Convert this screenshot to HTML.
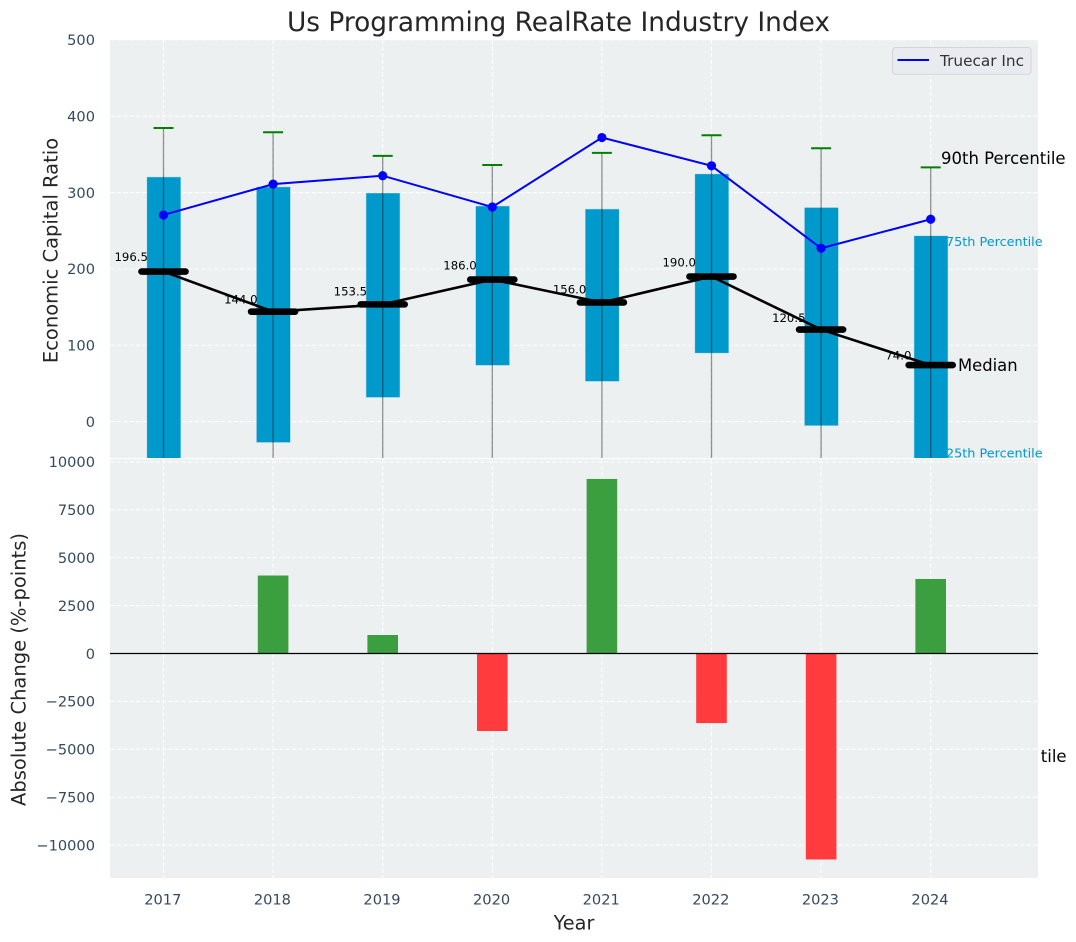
<!DOCTYPE html>
<html lang="en">
<head>
<meta charset="utf-8">
<title>Us Programming RealRate Industry Index</title>
<style>
html,body{margin:0;padding:0;background:#fff;width:1076px;height:942px;overflow:hidden}
svg{display:block}
text{font-family:"DejaVu Sans","Liberation Sans",sans-serif}
</style>
</head>
<body>
<svg id="chart" xmlns="http://www.w3.org/2000/svg" width="1076" height="942" viewBox="0 0 1076 942">
<defs>
<clipPath id="clip-top"><rect x="110" y="40" width="928" height="418"></rect></clipPath>
<clipPath id="clip-bottom"><rect x="110" y="459" width="928" height="419"></rect></clipPath>
</defs>
</svg>
<script>
const years = [2017, 2018, 2019, 2020, 2021, 2022, 2023, 2024];
const p90 = [384.5, 379, 348, 336, 352, 375, 358, 333];
const q3 = [320, 307, 299, 282, 278, 324, 280, 243];
const medians = [196.5, 144, 153.5, 186, 156, 190, 120.5, 74];
const q1 = [-60, -27, 32, 74, 53, 90, -5, -60];
const p10 = [-300, -250, -200, -180, -220, -150, -240, -438];
const truecar = [270.6, 311, 322, 281, 372, 335, 227, 265];
const changes = [0, 4070, 965, -4045, 9110, -3630, -10750, 3890];
const topTicks = [0, 100, 200, 300, 400, 500];
const bottomTicks = [-10000, -7500, -5000, -2500, 0, 2500, 5000, 7500, 10000];

const svg = document.getElementById('chart');
const NS = 'http://www.w3.org/2000/svg';
const xPos = function (yr) { return 163.5 + (yr - 2017) * 109.6; };
const yTop = function (v) { return 421.6 - v * 0.7636; };
const yBot = function (v) { return 653.5 - v * 0.01916; };
const tickColor = '#34495e';
const labelColor = '#262626';

function mk(tag, props, parent) {
  const el = document.createElementNS(NS, tag);
  for (const k in props) el.setAttribute(k, props[k]);
  parent.appendChild(el);
  return el;
}
function fmt(v) { return String(v).replace('-', '\u2212'); }

/* ---------- top panel ---------- */
const topBg = mk('rect', {x:110, y:40, width:928, height:418, fill:'#ecf0f1'}, svg);



const topPlot = mk('g', {'clip-path':'url(#clip-top)'}, svg);



topTicks.forEach(function (t) {
  const g = mk('line', {x1:110, x2:1038, y1:yTop(t), y2:yTop(t), stroke:'#fff', 'stroke-width':1.1, 'stroke-dasharray':'4.5 2', 'stroke-opacity':0.85}, topPlot);
  
  
  const lab = mk('text', {x:95, y:yTop(t) + 5.3, 'text-anchor':'end', 'font-size':14.6, fill:tickColor}, svg);
  lab.textContent = fmt(t);
  
  
});
years.forEach(function (yr) {
  const g = mk('line', {x1:xPos(yr), x2:xPos(yr), y1:40, y2:458, stroke:'#fff', 'stroke-width':1.1, 'stroke-dasharray':'4.5 2', 'stroke-opacity':0.85}, topPlot);
  
  
});

years.forEach(function (yr, i) {
  const yA = yTop(q3[i]);
  const yB = yTop(q1[i]);
  const box = mk('rect', {x:xPos(yr) - 16.4, y:yA, width:33.4, height:yB - yA, fill:'#0099cc', stroke:'#0099cc', 'stroke-opacity':0.25, 'stroke-width':1}, topPlot);
  
  
});
years.forEach(function (yr, i) {
  const w = mk('line', {x1:xPos(yr), x2:xPos(yr), y1:yTop(p90[i]), y2:yTop(p10[i]), stroke:'#000', 'stroke-opacity':0.42, 'stroke-width':1.3}, topPlot);
  
  
  const c = mk('line', {x1:xPos(yr) - 10, x2:xPos(yr) + 10, y1:yTop(p90[i]), y2:yTop(p90[i]), stroke:'#008000', 'stroke-width':2}, topPlot);
  
  
});

const truecarLine = mk('polyline', {points:years.map(function (yr, i) { return xPos(yr) + ',' + yTop(truecar[i]); }).join(' '), fill:'none', stroke:'#0000ff', 'stroke-width':2}, topPlot);


years.forEach(function (yr, i) {
  const p = mk('circle', {cx:xPos(yr), cy:yTop(truecar[i]), r:4.6, fill:'#0000ff'}, topPlot);
  
  
});

const medianLine = mk('polyline', {points:years.map(function (yr, i) { return xPos(yr) + ',' + yTop(medians[i]); }).join(' '), fill:'none', stroke:'#000', 'stroke-width':2.6}, topPlot);


years.forEach(function (yr, i) {
  const b = mk('line', {x1:xPos(yr) - 22, x2:xPos(yr) + 22, y1:yTop(medians[i]), y2:yTop(medians[i]), stroke:'#000', 'stroke-width':6.6, 'stroke-linecap':'round'}, topPlot);
  
  
  const t = mk('text', {x:xPos(yr) - 32.3, y:yTop(medians[i] * 1.05 + 9.4) + 4.3, 'text-anchor':'middle', 'font-size':11.7, fill:'#000'}, svg);
  t.textContent = medians[i].toFixed(1);
  
  
});

/* percentile annotations anchored to the final year */
const last = years.length - 1;
const a90 = mk('text', {x:941, y:yTop(p90[last]) - 3.2, 'font-size':16.5, fill:'#000'}, svg);
a90.textContent = '90th Percentile';


const a75 = mk('text', {x:946, y:yTop(q3[last]) + 10.2, 'font-size':12.8, fill:'#0099cc'}, svg);
a75.textContent = '75th Percentile';


const aMed = mk('text', {x:958, y:yTop(medians[last]) + 5.8, 'font-size':16.4, fill:'#000'}, svg);
aMed.textContent = 'Median';


const a25 = mk('text', {x:946, y:yTop(q1[last]) - 9.8, 'font-size':12.8, fill:'#0099cc'}, svg);
a25.textContent = '25th Percentile';


const a10 = mk('text', {x:940, y:yTop(p10[last]) + 5.8, 'font-size':16.5, fill:'#000'}, svg);


a10.appendChild(document.createTextNode('10th Percen'));
const a10Tail = mk('tspan', {dx:2}, a10);
a10Tail.textContent = 'tile';

/* ---------- legend ---------- */
const legend = mk('g', {}, svg);


const legendBox = mk('rect', {x:892.5, y:47.5, width:138.5, height:26.8, rx:3, fill:'#e9ebf0', stroke:'#d4d5d9', 'stroke-width':1}, legend);


const legendLine = mk('line', {x1:897.5, x2:929, y1:60, y2:60, stroke:'#0000ff', 'stroke-width':2}, legend);


const legendText = mk('text', {x:940, y:66, 'font-size':15.3, fill:'#333'}, legend);
legendText.textContent = 'Truecar Inc';



/* ---------- bottom panel (paints over overflow text from the top panel) ---------- */
const botBg = mk('rect', {x:110, y:459, width:928, height:419, fill:'#ecf0f1'}, svg);


const gap = mk('rect', {x:110, y:458, width:928, height:1.2, fill:'#fff'}, svg);



const botPlot = mk('g', {'clip-path':'url(#clip-bottom)'}, svg);



bottomTicks.forEach(function (t) {
  const g = mk('line', {x1:110, x2:1038, y1:yBot(t), y2:yBot(t), stroke:'#fff', 'stroke-width':1.1, 'stroke-dasharray':'4.5 2', 'stroke-opacity':0.85}, botPlot);
  
  
  const lab = mk('text', {x:95, y:yBot(t) + 5.3, 'text-anchor':'end', 'font-size':14.6, fill:tickColor}, svg);
  lab.textContent = fmt(t);
  
  
});
years.forEach(function (yr) {
  const g = mk('line', {x1:xPos(yr), x2:xPos(yr), y1:459, y2:878, stroke:'#fff', 'stroke-width':1.1, 'stroke-dasharray':'4.5 2', 'stroke-opacity':0.85}, botPlot);
  
  
  const lab = mk('text', {x:xPos(yr) - 0.7, y:904.5, 'text-anchor':'middle', 'font-size':14.6, fill:tickColor}, svg);
  lab.textContent = String(yr);
  
  
});
years.forEach(function (yr, i) {
  const v = changes[i];
  if (v === 0) return;
  const yA = Math.min(yBot(v), yBot(0));
  const h = Math.abs(yBot(v) - yBot(0));
  const bar = mk('rect', {x:xPos(yr) - 15.3, y:yA, width:30.6, height:h, fill:v > 0 ? '#3b9e3f' : '#ff3b3e'}, botPlot);
  
  
});
const zero = mk('line', {x1:110, x2:1038, y1:yBot(0), y2:yBot(0), stroke:'#000', 'stroke-width':1.3}, botPlot);



/* ---------- titles ---------- */
const title = mk('text', {x:558.5, y:31, 'text-anchor':'middle', 'font-size':26.4, fill:labelColor}, svg);
title.textContent = 'Us Programming RealRate Industry Index';


const yl1 = mk('text', {transform:'translate(57.5,250.5) rotate(-90)', 'text-anchor':'middle', 'font-size':19.5, fill:labelColor}, svg);
yl1.textContent = 'Economic Capital Ratio';


const yl2 = mk('text', {transform:'translate(25.5,669.5) rotate(-90)', 'text-anchor':'middle', 'font-size':19.5, fill:labelColor}, svg);
yl2.textContent = 'Absolute Change (%-points)';


const xl = mk('text', {x:574, y:929.5, 'text-anchor':'middle', 'font-size':19.3, fill:labelColor}, svg);
xl.textContent = 'Year';


</script>
</body>
</html>
